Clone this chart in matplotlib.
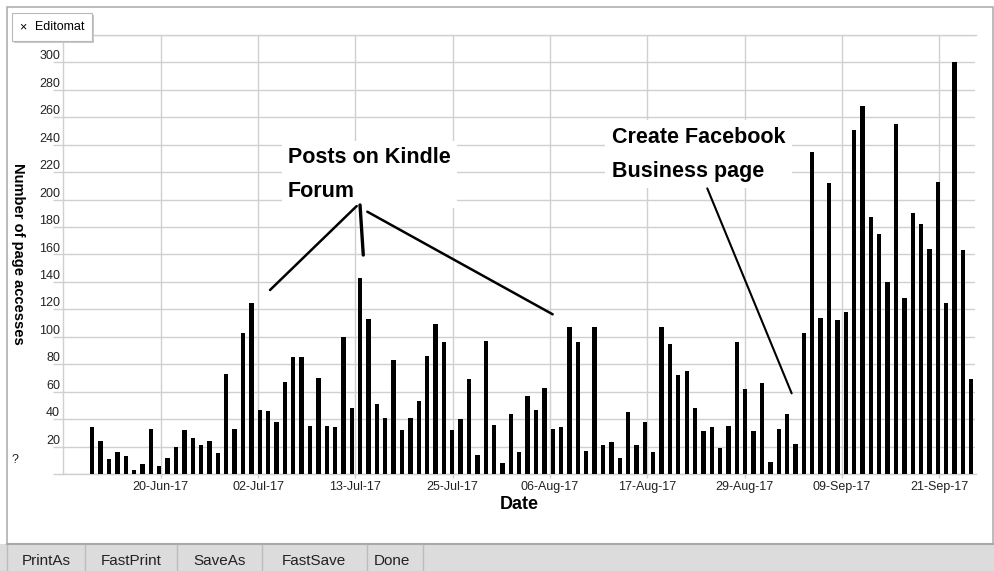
import matplotlib
matplotlib.use('Agg')
import matplotlib.pyplot as plt
import matplotlib.dates as mdates
from matplotlib.patches import Rectangle
import numpy as np
import pandas as pd

plt.rcParams['font.family'] = ['Liberation Sans', 'DejaVu Sans']

# daily page accesses, starting 12-Jun-2017
start_day = '2017-06-12'
page_accesses = [34, 24, 11, 16, 13, 3, 7, 33, 6, 12,
                 20, 32, 26, 21, 24, 15, 73, 33, 103, 125,
                 47, 46, 38, 67, 85, 85, 35, 70, 35, 34,
                 100, 48, 143, 113, 51, 41, 83, 32, 41, 53,
                 86, 109, 96, 32, 40, 69, 14, 97, 36, 8,
                 44, 16, 57, 47, 63, 33, 34, 107, 96, 17,
                 107, 21, 23, 12, 45, 21, 38, 16, 107, 95,
                 72, 75, 48, 31, 34, 19, 35, 96, 62, 31,
                 66, 9, 33, 44, 22, 103, 235, 114, 212, 112,
                 118, 251, 268, 187, 175, 140, 255, 128, 190, 182,
                 164, 213, 125, 300, 163, 69]
tick_labels = ['20-Jun-17', '02-Jul-17', '13-Jul-17', '25-Jul-17', '06-Aug-17',
               '17-Aug-17', '29-Aug-17', '09-Sep-17', '21-Sep-17']
y_ticks = list(range(0, 321, 20))

days = pd.date_range(start_day, periods=len(page_accesses), freq='D')
x = mdates.date2num(days)
x0 = x[0]

W, H = 995, 571
fig = plt.figure(figsize=(W / 100, H / 100), dpi=100)


def fx(px):
    return px / W


def fy(py):
    return 1 - py / H


grid_c = '#d0d0d0'
frame_c = '#a9a9a9'

# window frame + button strip
fig.add_artist(Rectangle((fx(7), fy(544)), fx(993) - fx(7), fy(7) - fy(544),
                         transform=fig.transFigure, fc='white', ec=frame_c, lw=1.1, zorder=0))
fig.add_artist(Rectangle((0, 0), 1, fy(544), transform=fig.transFigure,
                         fc='#dcdcdc', ec='none', zorder=1))
fig.add_artist(plt.Line2D([fx(7), 1], [fy(544), fy(544)], transform=fig.transFigure,
                          color=frame_c, lw=1.5, zorder=2))
for sx in [7, 85, 177, 262, 367, 423]:
    fig.add_artist(plt.Line2D([fx(sx), fx(sx)], [0, fy(545)], transform=fig.transFigure,
                              color='#bcbcbc', lw=1, zorder=2))
buttons = ['PrintAs', 'FastPrint', 'SaveAs', 'FastSave', 'Done']
button_x = [46, 131, 220, 314, 392]
for b, bx in zip(buttons, button_x):
    fig.text(fx(bx), fy(561), b, fontsize=11, color='#222222', ha='center', va='center')

ax = fig.add_axes([fx(63), fy(474), fx(975.5) - fx(63), fy(35) - fy(474)])
ax.patch.set_alpha(0)
ax.bar(x, page_accesses, width=0.52, color='black', zorder=3)
ax.set_xlim(x0 - 3.5, x0 + 105.5)
ax.set_ylim(0, 320)

tick_pos = x0 + 8.17 + 11.625 * np.arange(len(tick_labels))
ax.set_xticks(tick_pos, tick_labels)
ax.set_yticks(y_ticks, [''] + [str(v) for v in y_ticks[1:-1]] + [''])
ax.grid(True, color=grid_c, lw=1.0)
ax.set_axisbelow(True)
ax.spines['right'].set_visible(False)
for s in ['left', 'bottom', 'top']:
    ax.spines[s].set_color(grid_c)
    ax.spines[s].set_linewidth(1.0)
ax.tick_params(axis='y', length=7.2, width=1.0, color=grid_c, pad=-5,
               labelsize=9, labelcolor='#222222')
for lab in ax.get_yticklabels():
    lab.set_va('bottom')
ax.tick_params(axis='x', length=3, width=1.0, color=grid_c, pad=2,
               labelsize=9, labelcolor='#222222')
ax.set_xlabel('Date', fontsize=13, fontweight='bold', labelpad=2)

fig.text(fx(18), fy(254), 'Number of page accesses', rotation=-90, fontsize=10.5,
         fontweight='bold', ha='center', va='center')
fig.text(fx(15), fy(460), '?', fontsize=9, ha='center', va='center', color='#222222')

# annotations
box = dict(boxstyle='square,pad=0.3', fc='white', ec='none')
ax.text(x0 + 23.38, 238.3, 'Posts on Kindle\nForum', fontsize=15.5, fontweight='bold',
        ha='left', va='top', linespacing=1.8, bbox=box, zorder=4)
ax.text(x0 + 62.07, 253.0, 'Create Facebook\nBusiness page', fontsize=15.5, fontweight='bold',
        ha='left', va='top', linespacing=1.8, bbox=box, zorder=4)

leaders = [((21.23, 134.1), (31.58, 195.3), 1.8),
           ((31.98, 196.1), (32.37, 159.6), 2.4),
           ((32.85, 191.2), (54.99, 116.4), 1.8),
           ((73.46, 208.2), (83.54, 58.8), 1.5)]
for (a, b, lw) in leaders:
    ax.annotate('', xy=(x0 + a[0], a[1]), xytext=(x0 + b[0], b[1]),
                arrowprops=dict(arrowstyle='-', lw=lw, color='black', shrinkA=0, shrinkB=0),
                zorder=5)

# "Editomat" tab
fig.add_artist(Rectangle((fx(14), fy(43)), fx(94) - fx(14), fy(15) - fy(43),
                         transform=fig.transFigure, fc='#c8c8c8', ec='none', zorder=6))
fig.add_artist(Rectangle((fx(12), fy(41)), fx(92) - fx(12), fy(13) - fy(41),
                         transform=fig.transFigure, fc='white', ec='#b8b8b8', lw=0.8, zorder=7))
fig.text(fx(23), fy(27), '\u00d7', fontsize=9, ha='center', va='center', zorder=8)
fig.text(fx(35), fy(27), 'Editomat', fontsize=9, ha='left', va='center', zorder=8)

fig.savefig('out.png', dpi=100)
